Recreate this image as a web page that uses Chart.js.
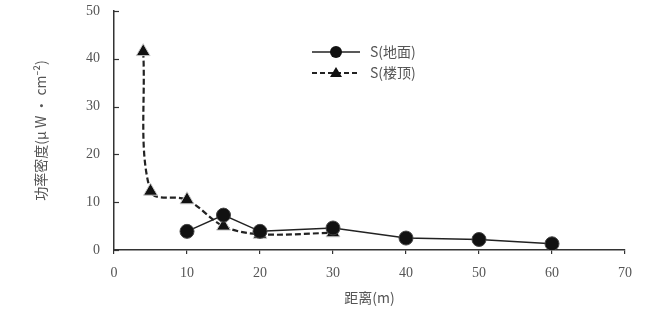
<!DOCTYPE html>
<html><head><meta charset="utf-8">
<script src="https://cdn.jsdelivr.net/npm/chart.js@4/dist/chart.umd.min.js"></script>
<style>html,body{margin:0;padding:0;background:#fff;}#wrap{width:646px;height:316px;}</style>
</head><body><div id="wrap"><canvas id="c" width="646" height="316"></canvas></div>
<script>
const groundX = [10, 15, 20, 30, 40, 50, 60];
const groundY = [3.9, 7.3, 3.9, 4.6, 2.5, 2.2, 1.3];
const roofX = [4, 5, 10, 15, 20, 30];
const roofY = [41.5, 12.3, 10.5, 5.0, 3.3, 3.6];
const xTicks = [0, 10, 20, 30, 40, 50, 60, 70];
const yTicks = [0, 10, 20, 30, 40, 50];
const seriesNames = ['S(地面)', 'S(楼顶)'];
const xTitle = '距离(m)';
const yTitle = '功率密度(μ W · cm⁻²)';

const serif = "'Liberation Serif','DejaVu Serif',serif";
const cjk = "'Noto Sans CJK SC','Noto Sans',sans-serif";
const txt = '#555';
const axisCol = '#333';

function pts(xs, ys){ return xs.map((x,i)=>({x:x, y:ys[i]})); }

const legendPlugin = {
  id:'legendIn',
  afterDraw(chart){
    const ctx = chart.ctx;
    const rows = [
      {y:52, dash:[], style:'circle', name:seriesNames[0]},
      {y:73, dash:[5,3], style:'triangle', name:seriesNames[1]}
    ];
    ctx.save();
    rows.forEach(r=>{
      ctx.strokeStyle = '#222'; ctx.lineWidth = r.dash.length ? 2 : 1.5;
      ctx.setLineDash(r.dash);
      ctx.beginPath(); ctx.moveTo(312, r.y); ctx.lineTo(360, r.y); ctx.stroke();
      ctx.setLineDash([]);
      ctx.fillStyle = '#111';
      if (r.style==='circle'){
        ctx.beginPath(); ctx.arc(336, r.y, 6, 0, Math.PI*2); ctx.fill();
      } else {
        ctx.beginPath(); ctx.moveTo(336, r.y-6); ctx.lineTo(342, r.y+4); ctx.lineTo(330, r.y+4); ctx.closePath(); ctx.fill();
      }
      ctx.fillStyle = txt; ctx.font = "14px " + cjk; ctx.textBaseline='middle'; ctx.textAlign='left';
      ctx.fillText(r.name, 370, r.y);
    });
    const ys = chart.scales.y, xs = chart.scales.x;
    ctx.strokeStyle = axisCol; ctx.lineWidth = 1.2;
    yTicks.forEach(v=>{
      const py = Math.round(ys.getPixelForValue(v))+0.5;
      ctx.beginPath(); ctx.moveTo(xs.left, py); ctx.lineTo(xs.left+5, py); ctx.stroke();
    });
    ctx.restore();
  }
};

new Chart(document.getElementById('c'), {
  type:'line',
  data:{datasets:[
    {label:seriesNames[0], data:pts(groundX, groundY), borderColor:'#222', borderWidth:1.5,
     pointStyle:'circle', pointRadius:7, pointBackgroundColor:'#111', pointBorderColor:'#444', pointBorderWidth:1, tension:0},
    {label:seriesNames[1], data:pts(roofX, roofY), borderColor:'#222', borderWidth:2.2, borderDash:[6,3],
     pointStyle:'triangle', pointRadius:8, pointBackgroundColor:'#111', pointBorderColor:'#ccc', pointBorderWidth:1, tension:0.35}
  ]},
  options:{
    responsive:false, animation:false, devicePixelRatio:1,
    layout:{padding:{left:30, right:21, top:11, bottom:8}},
    plugins:{legend:{display:false}, tooltip:{enabled:false}},
    scales:{
      x:{type:'linear', min:0, max:70,
         afterBuildTicks(s){ s.ticks = xTicks.map(v=>({value:v})); },
         afterFit(s){ s.height = 58; },
         border:{display:true, color:axisCol, width:1.5},
         grid:{drawOnChartArea:false, drawTicks:true, tickLength:4, color:axisCol, lineWidth:1.2},
         ticks:{color:txt, font:{family:serif, size:14}, padding:11, maxRotation:0},
         title:{display:true, text:xTitle, color:txt, font:{family:cjk, size:14}, padding:{top:4,bottom:2}}
      },
      y:{min:0, max:50,
         afterBuildTicks(s){ s.ticks = yTicks.map(v=>({value:v})); },
         afterFit(s){ s.width = 84; },
         border:{display:true, color:axisCol, width:1.5},
         grid:{drawOnChartArea:false, drawTicks:true, tickLength:14, color:'rgba(0,0,0,0)'},
         ticks:{color:txt, font:{family:serif, size:14}, padding:0},
         title:{display:true, text:yTitle, color:txt, font:{family:cjk, size:14}, padding:{top:2,bottom:0}}
      }
    }
  },
  plugins:[legendPlugin]
});
</script></body></html>
